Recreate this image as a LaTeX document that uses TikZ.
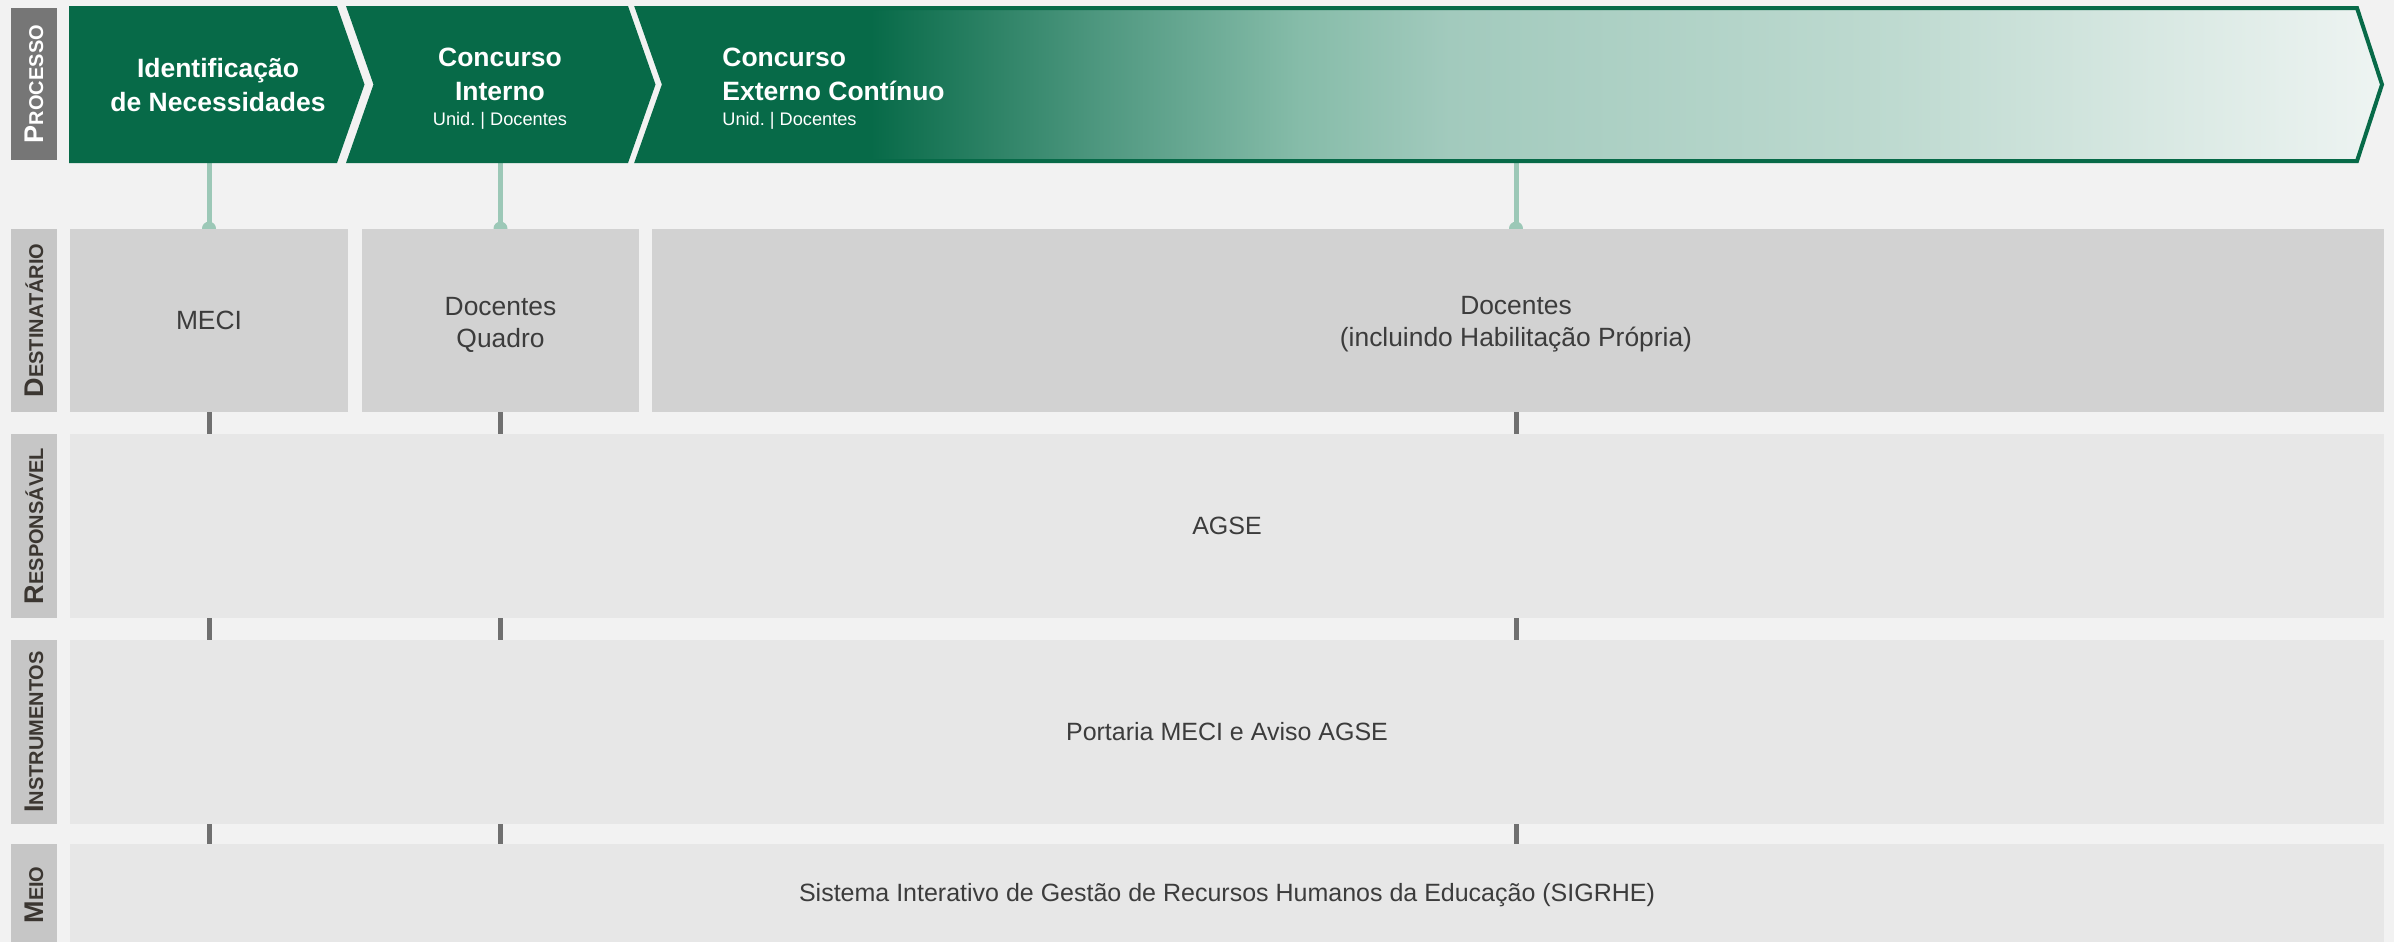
\documentclass[tikz,border=0pt]{standalone}
\usepackage{fontspec}
\setmainfont{Liberation Sans}
\frenchspacing
\definecolor{verde}{HTML}{076A48}
\definecolor{verdeB}{HTML}{4F9880}
\definecolor{verdeC}{HTML}{86BCA9}
\definecolor{verdeD}{HTML}{A2CABD}
\definecolor{verdeE}{HTML}{BEDAD0}
\definecolor{verdeF}{HTML}{EEF4F2}
\definecolor{verdeLig}{HTML}{9CC8B7}
\definecolor{cinzaFundo}{HTML}{F2F2F2}
\definecolor{cinzaProc}{HTML}{767676}
\definecolor{cinzaLabel}{HTML}{C6C6C6}
\definecolor{cinzaDest}{HTML}{D2D2D2}
\definecolor{cinzaRow}{HTML}{E7E7E7}
\definecolor{cinzaLig}{HTML}{707070}
\definecolor{textoBox}{HTML}{3C3C3C}
\definecolor{textoLabel}{HTML}{3B3631}
\pgfdeclarehorizontalshading{fadeverde}{100bp}{color(0bp)=(verde); color(25bp)=(verde); color(31.7bp)=(verde); color(38.3bp)=(verdeB); color(44bp)=(verdeC); color(48.3bp)=(verdeD); color(61bp)=(verdeE); color(75bp)=(verdeF); color(100bp)=(verdeF)}
\pgfdeclarelayer{fundo}
\pgfdeclarelayer{ligacoes}
\pgfsetlayers{fundo,ligacoes,main}
% falsas versaletes para as etiquetas verticais
\newcommand{\rotlabel}[2]{{\fontsize{13.5}{14}\selectfont #1}{\fontsize{10}{12}\selectfont #2}}

\begin{document}
\begin{tikzpicture}[x=0.5pt, y=-0.5pt]
	\tikzstyle{labbox}=[rotate=90, fill=cinzaLabel, text=textoLabel, inner sep=0pt, minimum height=23pt, font=\bfseries]
	\tikzstyle{destbox}=[fill=cinzaDest, text=textoBox, inner sep=0pt, align=center, font=\fontsize{13.2}{16}\selectfont]
	\tikzstyle{desttxt}=[text=textoBox, inner sep=0pt, align=center, font=\fontsize{13.2}{16}\selectfont]
	\tikzstyle{rowbox}=[destbox, fill=cinzaRow, minimum width=1157pt, font=\fontsize{12.5}{16}\selectfont]
	\tikzstyle{titulo}=[text=white, inner sep=0pt, align=center, font=\bfseries\fontsize{13.25}{17}\selectfont]
	\tikzstyle{subtit}=[text=white, inner sep=0pt, font=\fontsize{9.1}{11}\selectfont]
	\tikzstyle{ligverde}=[draw=verdeLig, line width=2.5pt]
	\tikzstyle{ligcinza}=[draw=cinzaLig, line width=2.5pt]

	\begin{pgfonlayer}{fundo}
		\fill[cinzaFundo] (0,0) rectangle (2394,942);
	\end{pgfonlayer}
	\useasboundingbox (0,0) rectangle (2394,942);

	% processo
	\fill[verde] (69,6) -- (337,6) -- (364.5,84.5) -- (337,163) -- (69,163) -- cycle;
	\fill[verde] (346,6) -- (628,6) -- (655.5,84.5) -- (628,163) -- (346,163) -- (373.5,84.5) -- cycle;
	\shadedraw[shading=fadeverde, draw=verde, line width=2pt] (637,8) -- (2357,8) -- (2382,84.5) -- (2357,161) -- (637,161) -- (664,84.5) -- cycle;

	\node[titulo] (tidn) at (218,85.5) {Identificação\\de Necessidades};
	\node[titulo] (tint) at (500,74) {Concurso\\Interno};
	\node[subtit, anchor=base] (sint) at (500,125.5) {Unid. | Docentes};
	\node[titulo, align=left, anchor=west] (text) at (722,74) {Concurso\\Externo Contínuo};
	\node[subtit, anchor=base west] (sext) at (722,125.5) {Unid. | Docentes};

	\coordinate (cidn) at (209,163);
	\coordinate (cint) at (500.5,163);
	\coordinate (cext) at (1516,163);

	% etiquetas
	\node[labbox, fill=cinzaProc, text=white, minimum width=76pt] (lproc) at (34,84) {\rotlabel{P}{ROCESSO}};
	\node[labbox, minimum width=91.5pt] (ldest) at (34,320.5) {\rotlabel{D}{ESTINATÁRIO}};
	\node[labbox, minimum width=92pt] (lresp) at (34,526) {\rotlabel{R}{ESPONSÁVEL}};
	\node[labbox, minimum width=92pt] (linst) at (34,732) {\rotlabel{I}{NSTRUMENTOS}};
	\node[labbox, minimum width=51pt] (lmeio) at (34,895) {\rotlabel{M}{EIO}};

	% linhas
	\node[destbox, minimum width=139pt, minimum height=91.5pt] (meci) at (209,320.5) {MECI};
	\node[destbox, minimum width=138.5pt, minimum height=91.5pt] (quadro) at (500.5,320.5) {};
	\node[destbox, minimum width=866pt, minimum height=91.5pt] (docs) at (1518,320.5) {};
	\node[desttxt] (tquadro) at ([yshift=-2pt]quadro.center) {Docentes\\Quadro};
	\node[desttxt] (tdocs) at ([yshift=-2pt]cext |- docs.center) {Docentes\\(incluindo Habilitação Própria)};
	\node[rowbox, minimum height=92pt] (agse) at (1227,526) {AGSE};
	\node[rowbox, minimum height=92pt] (instr) at (1227,732) {Portaria MECI e Aviso AGSE};
	\node[rowbox, minimum height=51pt] (meio) at (1227,895) {Sistema Interativo de Gestão de Recursos Humanos da Educação (SIGRHE)};

	\begin{pgfonlayer}{ligacoes}
		\draw[ligverde] (cidn) -- (cidn |- meci.north);
		\fill[verdeLig] (cidn |- meci.north) circle[radius=3.5pt];
		\draw[ligverde] (cint) -- (cint |- quadro.north);
		\fill[verdeLig] (cint |- quadro.north) circle[radius=3.5pt];
		\draw[ligverde] (cext) -- (cext |- docs.north);
		\fill[verdeLig] (cext |- docs.north) circle[radius=3.5pt];
	\end{pgfonlayer}

	\draw[ligcinza] (cidn |- meci.south) -- (cidn |- agse.north);
	\draw[ligcinza] (cidn |- agse.south) -- (cidn |- instr.north);
	\draw[ligcinza] (cidn |- instr.south) -- (cidn |- meio.north);
	\draw[ligcinza] (cint |- quadro.south) -- (cint |- agse.north);
	\draw[ligcinza] (cint |- agse.south) -- (cint |- instr.north);
	\draw[ligcinza] (cint |- instr.south) -- (cint |- meio.north);
	\draw[ligcinza] (cext |- docs.south) -- (cext |- agse.north);
	\draw[ligcinza] (cext |- agse.south) -- (cext |- instr.north);
	\draw[ligcinza] (cext |- instr.south) -- (cext |- meio.north);
\end{tikzpicture}
\end{document}
